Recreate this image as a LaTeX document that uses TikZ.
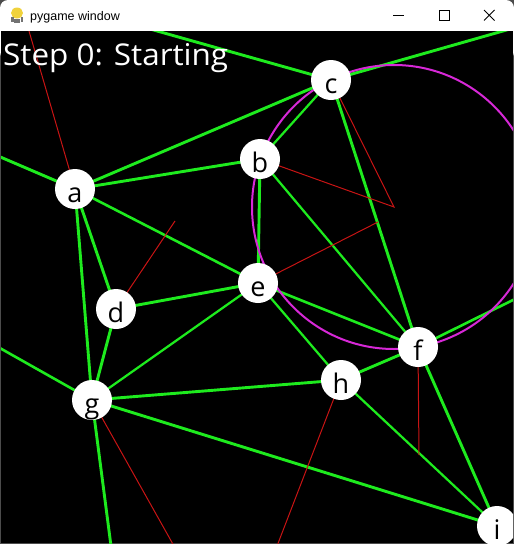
\documentclass[tikz,border=0pt]{standalone}
\usepackage{fontspec}
\setmainfont{Open Sans}
\newfontfamily\uifont{Liberation Sans}
\definecolor{edgegreen}{RGB}{30,235,30}
\definecolor{vred}{RGB}{200,20,20}
\definecolor{circmag}{RGB}{215,40,215}
\definecolor{iconyellow}{RGB}{240,210,60}
\begin{document}
\begin{tikzpicture}[x=1pt,y=-1pt,
  vtx/.style={circle,fill=white,minimum size=40pt,inner sep=0pt,text height=26pt,text depth=0pt,font=\fontsize{27}{27}\selectfont,text=black},
  vtxlabel/.style={inner sep=0pt,text height=26pt,text depth=0pt,font=\fontsize{27}{27}\selectfont,text=black},
  edge/.style={draw=edgegreen,line width=2.9pt},
  edgemid/.style={draw=edgegreen,line width=2.6pt},
  edgethin/.style={draw=edgegreen,line width=2.25pt},
  vor/.style={draw=vred,line width=1pt},
  ccirc/.style={draw=circmag,line width=2pt},
  ctrl/.style={draw=black,line width=1pt}]
\useasboundingbox (0,0) rectangle (514,544);
\fill[black!70] (0,0) rectangle (514,544);
\fill[white, rounded corners=8pt] (0,0) rectangle (514,60);
\fill[black] (1,31) rectangle (513,543);
% title bar
\node[anchor=base west, inner sep=0pt, font=\uifont\fontsize{12.5}{12.5}\selectfont] (title) at (30,20) {pygame window};
\fill[iconyellow] (17,13) ellipse (6 and 5.5);
\fill[black!55] (11,17) rectangle (13.5,22);
\fill[black!55] (20.5,17) rectangle (23,22);
\fill[black!55] (14,19) rectangle (20,23);
\draw[ctrl] (393,15.5) -- (404,15.5);
\draw[ctrl] (439,10.5) rectangle (449,20.5);
\draw[ctrl] (484,10) -- (494.5,20.5) (494.5,10) -- (484,20.5);
% vertex positions
\coordinate (pa) at (75,189);
\coordinate (pb) at (260,159);
\coordinate (pc) at (331,80);
\coordinate (pd) at (116,309);
\coordinate (pe) at (258,283);
\coordinate (pf) at (418,347);
\coordinate (pg) at (92,400);
\coordinate (ph) at (341,380);
\coordinate (pi) at (497,526);
% free ends
\coordinate (cTL) at (150,29);
\coordinate (cTR) at (510,29);
\coordinate (aL) at (-2,156);
\coordinate (gL) at (-2,347);
\coordinate (gB) at (111,546);
\coordinate (fR) at (515,299);
\coordinate (rTop) at (29,31);
\coordinate (rD) at (175,221);
\coordinate (cc) at (394,207);
\coordinate (rE) at (378,222);
\coordinate (rF) at (419,455);
\coordinate (rH) at (277,546);
\coordinate (rG) at (174,546);
\begin{scope}
\clip (1,31) rectangle (513,543);
% green edges
\draw[edge] (pa) -- (pb);
\draw[edge] (pa) -- (pc);
\draw[edge] (pa) -- (aL);
\draw[edgemid] (pa) -- (pe);
\draw[edge] (pa) -- (pd);
\draw[edge] (pa) -- (pg);
\draw[edge] (pc) -- (cTL);
\draw[edge] (pc) -- (cTR);
\draw[edgethin] (pb) -- (pc);
\draw[edge] (pb) -- (pe);
\draw[edgethin] (pb) -- (pf);
\draw[edge] (pc) -- (pf);
\draw[edge] (pe) -- (pd);
\draw[edgethin] (pe) -- (pg);
\draw[edgemid] (pe) -- (pf);
\draw[edgethin] (pe) -- (ph);
\draw[edge] (pd) -- (pg);
\draw[edgemid] (pg) -- (gL);
\draw[edge] (pg) -- (ph);
\draw[edge] (pg) -- (pi);
\draw[edge] (pg) -- (gB);
\draw[edge] (ph) -- (pf);
\draw[edgethin] (ph) -- (pi);
\draw[edge] (pf) -- (pi);
\draw[edgemid] (pf) -- (fR);
% red lines
\draw[vor] (rTop) -- (pa);
\draw[vor] (rD) -- (pd);
\draw[vor] (pb) -- (cc) -- (pc);
\draw[vor] (pe) -- (rE);
\draw[vor] (pf) -- (rF);
\draw[vor] (ph) -- (rH);
\draw[vor] (pg) -- (rG);
% circumcircle
\draw[ccirc] (cc) circle[radius=142];
% vertices
\node[vtx] (a) at (pa) {a};
\node[vtx] (b) at (pb) {b};
\node[vtx] (c) at (pc) {c};
\node[vtx] (d) at (pd) {d};
\node[vtx] (e) at (pe) {e};
\node[vtx] (f) at (pf) {f};
\node[vtx] (g) at (pg) {g};
\node[vtx] (h) at (ph) {h};
\node[vtx] (i) at (pi) {};
\end{scope}
\node[vtxlabel] (ilabel) at (pi) {i};
\node[anchor=base west, inner sep=0pt, text=white, font=\fontsize{30}{30}\selectfont] (step) at (3,65) {\resizebox{225pt}{\height}{Step 0: Starting}};
\end{tikzpicture}
\end{document}
